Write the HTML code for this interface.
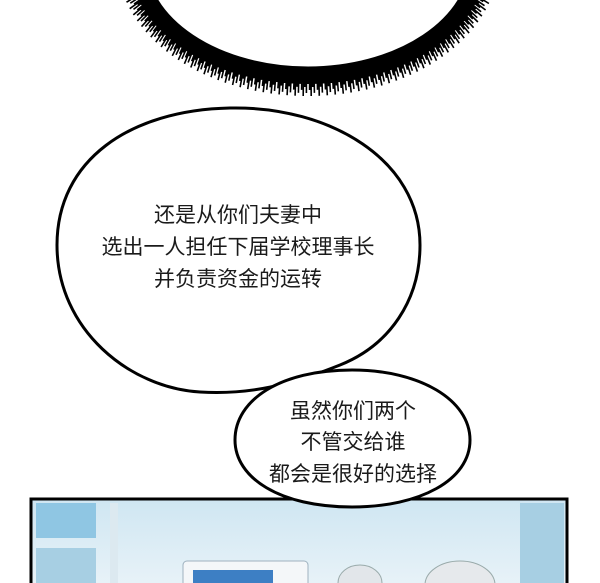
<!DOCTYPE html>
<html><head><meta charset="utf-8"><style>
html,body{margin:0;padding:0;background:#fff;}
svg{display:block}
text{font-family:"Liberation Sans","Noto Sans CJK SC",sans-serif;font-size:21px;fill:#1a1a1a;text-anchor:middle}
</style></head><body>
<svg width="600" height="583" viewBox="0 0 600 583">
  <defs>
    <linearGradient id="bg" x1="0" y1="0" x2="0" y2="1">
      <stop offset="0" stop-color="#cfe6f2"/><stop offset="1" stop-color="#e9f3f8"/>
    </linearGradient>
  </defs>
  <g id="burst"></g>

  <g>
    <rect x="31" y="499" width="536" height="90" fill="url(#bg)" stroke="#000" stroke-width="3"/>
    <rect x="36" y="503" width="60" height="35" fill="#8fc6e3"/>
    <rect x="36" y="548" width="60" height="35" fill="#a7cfe3"/>
    <rect x="110" y="503" width="8" height="80" fill="#dce9f0"/>
    <rect x="520" y="503" width="44" height="80" fill="#a7cfe3"/>
    <rect x="183" y="561" width="125" height="30" rx="4" fill="#f4f7f9" stroke="#9fb2bf"/>
    <rect x="193" y="570" width="80" height="20" fill="#3d7fc4"/>
    <ellipse cx="360" cy="583" rx="22" ry="18" fill="#e2e6ea" stroke="#9aa" />
    <ellipse cx="460" cy="585" rx="35" ry="24" fill="#e6e9ec" stroke="#9aa"/>
  </g>

  <path d="M230,108 C330,106 420,160 420,245 C420,300 390,345 340,365 C290,385 250,395 200,392 C130,388 57,330 57,245 C57,160 130,110 230,108 Z" fill="#fff" stroke="#000" stroke-width="3"/>
  <path d="M352,370 C420,370 470,400 470,440 C470,480 420,507 352,507 C280,507 235,478 235,440 C235,400 280,370 352,370 Z" fill="#fff" stroke="#000" stroke-width="3"/>

  <g>
    <text x="238" y="222">还是从你们夫妻中</text>
    <text x="238" y="254">选出一人担任下届学校理事长</text>
    <text x="238" y="286">并负责资金的运转</text>
  </g>
  <g>
    <text x="353" y="418">虽然你们两个</text>
    <text x="353" y="449">不管交给谁</text>
    <text x="353" y="481">都会是很好的选择</text>
  </g>
</svg>
<script>
var g=document.getElementById('burst');
var cx=308,cy=-40,rx=165,ry=110;
var s='';
var N=330;
for(var i=0;i<=N;i++){
  var t=Math.PI*(0.02+0.96*i/N);
  var x=cx-Math.cos(t)*rx, y=cy+Math.sin(t)*ry;
  var nx=-Math.cos(t)/rx*ry, ny=Math.sin(t)/ry*rx; var l=Math.hypot(nx,ny); nx/=l; ny/=l;
  var len=14+((i*7)%5)*3;
  s+='M'+(x-nx*3).toFixed(1)+','+(y-ny*3).toFixed(1)+'L'+(x+nx*len).toFixed(1)+','+(y+ny*len).toFixed(1);
}
var p=document.createElementNS('http://www.w3.org/2000/svg','path');
p.setAttribute('d',s);p.setAttribute('stroke','#000');p.setAttribute('stroke-width','1.6');


g.appendChild(p);
var e=document.createElementNS('http://www.w3.org/2000/svg','ellipse');
e.setAttribute('cx',cx);e.setAttribute('cy',cy);e.setAttribute('rx',rx);e.setAttribute('ry',ry);
e.setAttribute('fill','#fff');e.setAttribute('stroke','#000');e.setAttribute('stroke-width','7');


g.appendChild(e);
</script>
</body></html>
